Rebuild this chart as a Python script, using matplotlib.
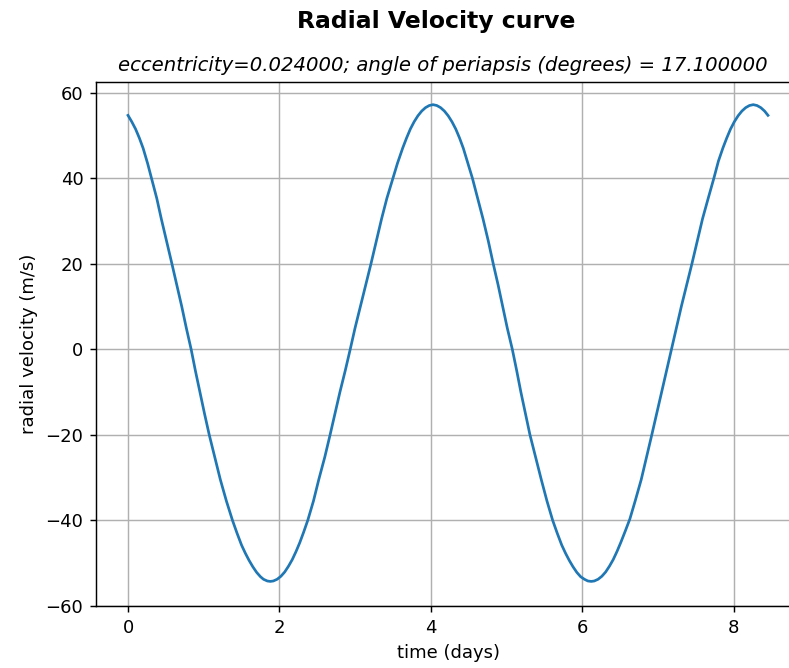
import matplotlib
matplotlib.use("Agg")
import matplotlib.pyplot as plt

# values (days, m/s)
time_days = [
    0.00, 0.05, 0.10, 0.15, 0.20, 0.26, 0.31, 0.38, 0.44, 0.51, 0.58, 0.645,
    0.71, 0.77, 0.834, 0.89, 0.95, 1.01, 1.073, 1.15, 1.22, 1.30, 1.38, 1.44,
    1.50, 1.55, 1.60, 1.65, 1.70, 1.75, 1.79, 1.84, 1.88,
    1.92, 1.97, 2.02, 2.07, 2.12, 2.17, 2.22, 2.27, 2.32, 2.375, 2.45, 2.52,
    2.60, 2.67, 2.735, 2.80, 2.87, 2.936, 3.00, 3.07, 3.14, 3.21, 3.28, 3.35,
    3.42, 3.50, 3.56, 3.63, 3.68, 3.73, 3.78, 3.83, 3.88, 3.93, 3.98, 4.03,
    4.08, 4.13, 4.18, 4.23, 4.28, 4.33, 4.38, 4.43, 4.49, 4.55, 4.62, 4.69,
    4.76, 4.825, 4.89, 4.95, 5.01, 5.077, 5.135, 5.19, 5.25, 5.31, 5.385, 5.46,
    5.535, 5.61, 5.67, 5.73, 5.78, 5.83, 5.88, 5.93, 5.98, 6.03, 6.075, 6.12,
    6.16, 6.21, 6.26, 6.31, 6.36, 6.41, 6.46, 6.51, 6.57, 6.63, 6.70, 6.78,
    6.85, 6.92, 6.985, 7.05, 7.115, 7.18, 7.245, 7.31, 7.38, 7.45, 7.52, 7.59,
    7.665, 7.74, 7.80, 7.86, 7.91, 7.96, 8.01, 8.06, 8.11, 8.16, 8.21, 8.26,
    8.31, 8.36, 8.41, 8.455,
]
radial_velocity = [
    54.7, 53.2, 51.5, 49.4, 47.0, 43.4, 40.0, 35.3, 30.5, 25.3, 20.0, 15.0,
    10.0, 5.0, 0.0, -5.0, -10.0, -15.0, -20.0, -25.5, -30.5, -35.5, -40.0, -43.0,
    -45.8, -47.7, -49.4, -50.9, -52.2, -53.2, -53.8, -54.2, -54.3,
    -54.2, -53.8, -53.1, -52.1, -50.75, -49.2, -47.3, -45.2, -42.8, -40.0, -35.5, -30.5,
    -25.2, -20.0, -15.0, -10.0, -5.0, 0.0, 5.0, 10.0, 15.0, 20.0, 25.3, 30.5,
    35.3, 40.0, 43.5, 47.1, 49.4, 51.5, 53.2, 54.6, 55.7, 56.5, 57.0, 57.2,
    57.0, 56.5, 55.7, 54.6, 53.2, 51.5, 49.4, 47.0, 43.5, 40.0, 35.3, 30.5,
    25.3, 20.0, 15.0, 10.0, 5.0, 0.0, -5.0, -10.0, -15.0, -20.0, -25.3, -30.5,
    -35.5, -40.0, -43.0, -45.8, -47.7, -49.4, -50.9, -52.2, -53.2, -53.8, -54.2, -54.3,
    -54.2, -53.8, -53.1, -52.1, -50.75, -49.2, -47.3, -45.2, -42.5, -39.7, -35.5, -30.5,
    -25.3, -20.0, -15.0, -10.0, -5.0, 0.0, 5.0, 10.0, 15.0, 20.0, 25.3, 30.5,
    35.3, 40.0, 44.0, 47.1, 49.4, 51.5, 53.2, 54.6, 55.7, 56.5, 57.0, 57.2,
    57.0, 56.5, 55.7, 54.7,
]

eccentricity = 0.024
periapsis_deg = 17.1

DPI = 130
fig = plt.figure(figsize=(789 / DPI, 668 / DPI), dpi=DPI)
# axes runs past the right edge, as in the cropped reference
ax = fig.add_axes([96 / 789, 62 / 668, 704 / 789, 524 / 668])

ax.plot(time_days, radial_velocity)
ax.grid(True)
ax.set_ylim(-60.05, 62.5)
ax.set_xlabel('time (days)')
ax.set_ylabel('radial velocity (m/s)')
ax.set_title('eccentricity=%f; angle of periapsis (degrees) = %f' % (eccentricity, periapsis_deg),
             fontstyle='italic', fontsize=10.9, x=0.493)
fig.suptitle('Radial Velocity curve', fontsize=13, fontweight='bold',
             x=436 / 789, y=1 - 10 / 668)

fig.savefig('out.png', dpi=DPI, facecolor='white')
